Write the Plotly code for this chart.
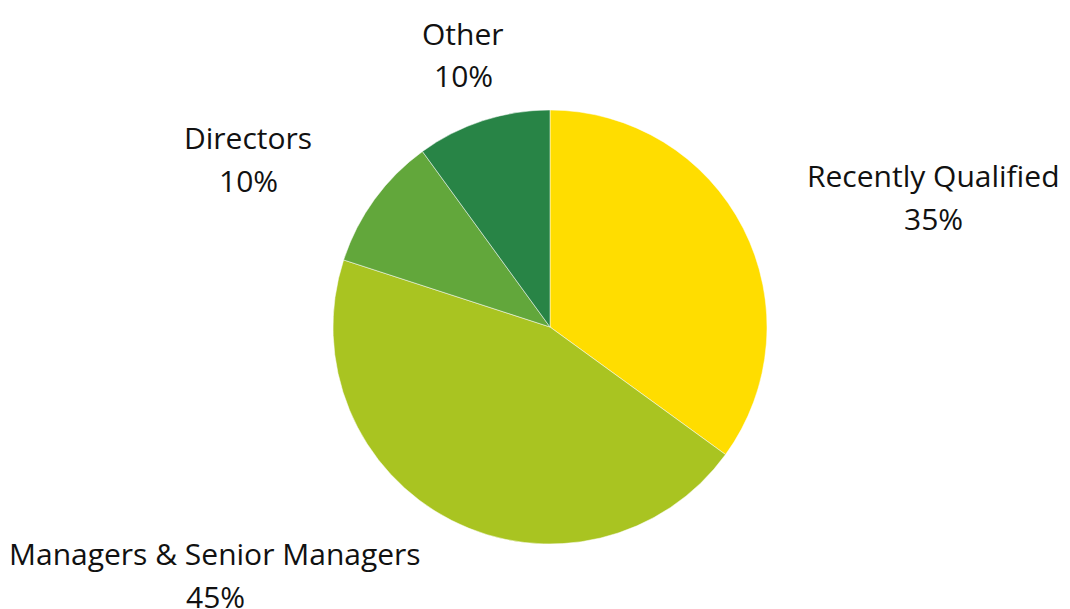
import plotly.graph_objects as go

# data
categories = ['Recently Qualified', 'Managers & Senior Managers', 'Directors', 'Other']
shares = [35, 45, 10, 10]
colors = ['#FFDD00', '#A9C421', '#62A73B', '#288446']

# label centres in pixels (x, y of first line) for the 1070x609 canvas
label_pos = [(933, 175), (215, 553), (248, 137), (463, 33)]
W, H = 1070, 609
line_gap = 43

fig = go.Figure(go.Pie(
    labels=categories,
    values=shares,
    marker=dict(colors=colors, line=dict(color='white', width=0.5)),
    sort=False,
    direction='clockwise',
    rotation=0,
    textinfo='none',
    hoverinfo='label+percent',
    domain=dict(x=[(550 - 217) / W, (550 + 217) / W],
                y=[(609 - 544) / H, (609 - 110) / H]),
    showlegend=False,
))

for (px_, py_), name, v in zip(label_pos, categories, shares):
    for i, txt in enumerate([name, f'{v}%']):
        fig.add_annotation(
            x=px_ / W, y=1 - (py_ + i * line_gap) / H,
            xref='paper', yref='paper',
            text=txt, showarrow=False,
            xanchor='center', yanchor='middle',
            font=dict(family='Open Sans', size=30, color='#111111'),
        )

fig.update_layout(
    width=W, height=H,
    margin=dict(l=0, r=0, t=0, b=0),
    paper_bgcolor='white',
    plot_bgcolor='white',
)

# remove default page margin so the figure sits at the window corner
fig.write_html('out.html', config={'displayModeBar': False},
               post_script="document.body.style.margin='0';document.body.style.overflow='hidden';")
